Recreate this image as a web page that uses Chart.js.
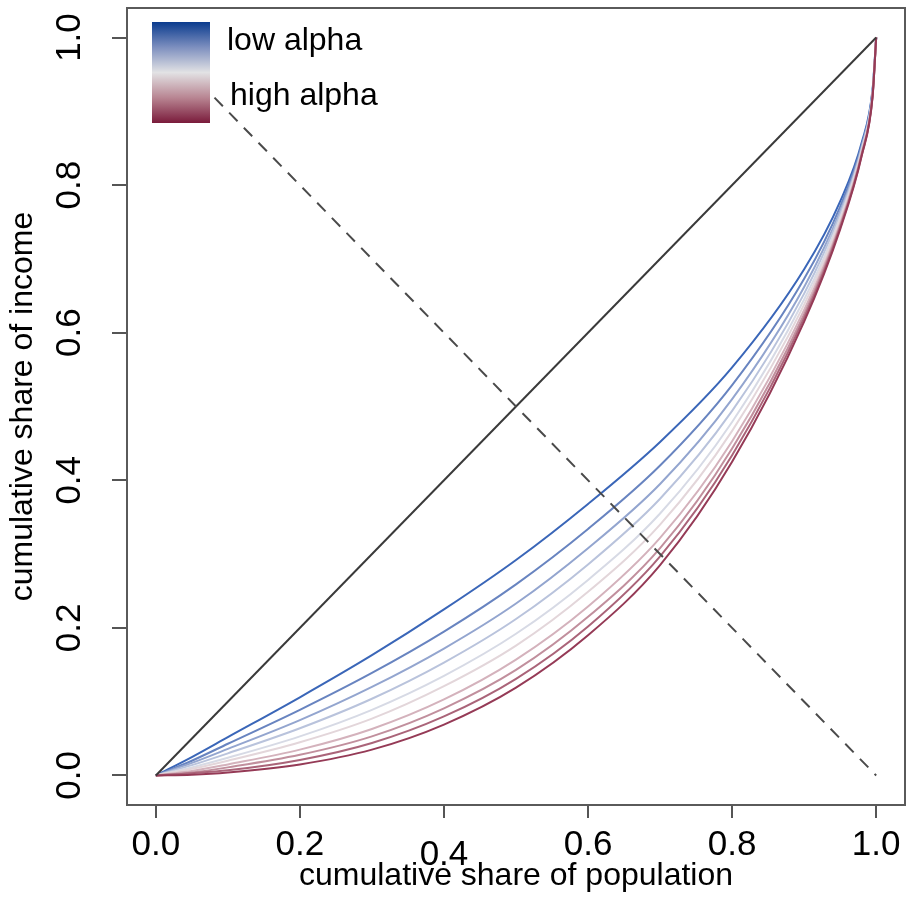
<!DOCTYPE html>
<html lang="en">
<head>
    <meta charset="UTF-8">
    <title>Lorenz curves</title>
    <style>
        html, body { margin: 0; padding: 0; background: #fff; }
        #wrap { width: 906px; height: 912px; }
    </style>
</head>
<body>
    <div id="wrap">
        <canvas id="myChart" width="906" height="912"></canvas>
    </div>

    <script src="https://cdn.jsdelivr.net/npm/chart.js"></script>

    <script>
    const popShare = [0, 0.05, 0.1, 0.2, 0.3, 0.4, 0.5, 0.6, 0.7, 0.8, 0.9, 0.95, 0.98, 0.995, 1];

    // income share, low alpha (blue) -> high alpha (red)
    const lorenz1  = [0, 0.025, 0.052, 0.106, 0.163, 0.225, 0.292, 0.368, 0.452, 0.553, 0.686, 0.778, 0.858, 0.930, 1];
    const lorenz2  = [0, 0.020, 0.043, 0.089, 0.139, 0.195, 0.259, 0.334, 0.420, 0.529, 0.673, 0.771, 0.855, 0.928, 1];
    const lorenz3  = [0, 0.017, 0.036, 0.075, 0.120, 0.172, 0.233, 0.308, 0.395, 0.510, 0.662, 0.765, 0.852, 0.927, 1];
    const lorenz4  = [0, 0.014, 0.030, 0.064, 0.104, 0.153, 0.212, 0.286, 0.375, 0.494, 0.653, 0.761, 0.850, 0.925, 1];
    const lorenz5  = [0, 0.011, 0.024, 0.053, 0.089, 0.135, 0.192, 0.265, 0.355, 0.479, 0.645, 0.756, 0.848, 0.924, 1];
    const lorenz6  = [0, 0.009, 0.020, 0.045, 0.077, 0.121, 0.176, 0.249, 0.340, 0.467, 0.638, 0.753, 0.846, 0.923, 1];
    const lorenz7  = [0, 0.006, 0.015, 0.035, 0.063, 0.103, 0.157, 0.229, 0.322, 0.453, 0.631, 0.748, 0.844, 0.922, 1];
    const lorenz8  = [0, 0.004, 0.011, 0.028, 0.053, 0.091, 0.143, 0.215, 0.308, 0.443, 0.625, 0.745, 0.843, 0.921, 1];
    const lorenz9  = [0, 0.003, 0.007, 0.021, 0.044, 0.080, 0.131, 0.202, 0.297, 0.434, 0.620, 0.743, 0.841, 0.921, 1];
    const lorenz10 = [0, 0.001, 0.004, 0.015, 0.035, 0.069, 0.119, 0.190, 0.285, 0.425, 0.615, 0.740, 0.840, 0.920, 1];
    const curves = [lorenz1, lorenz2, lorenz3, lorenz4, lorenz5, lorenz6, lorenz7, lorenz8, lorenz9, lorenz10];

    // line of equality and the 1-x reference line
    const equalityX = [0, 1];
    const equalityY = [0, 1];
    const antiDiagY = [1, 0];

    const tickValues = [0, 0.2, 0.4, 0.6, 0.8, 1.0];
    const legendLabels = ['low alpha', 'high alpha'];

    const curveColors = ['#3a66b8', '#6884c0', '#93a5cf', '#b9c3dc', '#d7dae5',
                         '#e3d6da', '#d4b2bc', '#c18f9d', '#aa6479', '#953a56'];
    const FONT = '"Liberation Sans", Arial, Helvetica, sans-serif';

    const pts = (xs, ys) => xs.map((x, i) => ({x: x, y: ys[i]}));

    const datasets = curves.map((c, i) => ({
        data: pts(popShare, c),
        borderColor: curveColors[i],
        borderWidth: 2,
        pointRadius: 0,
        cubicInterpolationMode: 'monotone',
        order: 12 - i
    }));
    datasets.push({
        data: pts(equalityX, equalityY),
        borderColor: '#3a3a3a', borderWidth: 2, pointRadius: 0, order: 1
    });
    datasets.push({
        data: pts(equalityX, antiDiagY),
        borderColor: '#4a4a4a', borderWidth: 2, borderDash: [12, 9], pointRadius: 0, order: 0
    });

    // box around the plot + gradient legend
    const boxAndLegend = {
        id: 'boxAndLegend',
        afterDatasetsDraw(chart) {
            const c = chart.ctx, a = chart.chartArea;
            c.save();
            c.strokeStyle = '#5a5a5a';
            c.lineWidth = 2;
            c.strokeRect(a.left, a.top, a.right - a.left, a.bottom - a.top);

            const g = c.createLinearGradient(0, 22, 0, 123);
            g.addColorStop(0, '#0a3b8e');
            g.addColorStop(0.25, '#7d8fbf');
            g.addColorStop(0.5, '#e2e2e4');
            g.addColorStop(0.75, '#b88592');
            g.addColorStop(1, '#7a1b3b');
            c.fillStyle = g;
            c.fillRect(152, 22, 58, 101);

            c.fillStyle = '#000';
            c.font = '32px ' + FONT;
            c.textBaseline = 'alphabetic';
            c.fillText(legendLabels[0], 227, 50);
            c.fillText(legendLabels[1], 230, 105);
            c.restore();
        }
    };

    const ctx = document.getElementById('myChart');
    new Chart(ctx, {
        type: 'line',
        data: { datasets: datasets },
        plugins: [boxAndLegend],
        options: {
            responsive: false,
            animation: false,
            layout: { padding: { top: 8, right: 1, left: 0, bottom: 0 } },
            plugins: { legend: { display: false }, tooltip: { enabled: false } },
            scales: {
                x: {
                    type: 'linear',
                    min: -0.04, max: 1.04,
                    afterBuildTicks: s => { s.ticks = tickValues.map(v => ({value: v})); },
                    afterFit: s => { s.height = 107; s.paddingLeft = 0; s.paddingRight = 0; },
                    grid: { drawOnChartArea: false, drawTicks: true, tickLength: 13, color: '#555', lineWidth: 2 },
                    border: { display: true, color: '#555', width: 2 },
                    ticks: {
                        color: '#000',
                        padding: 6,
                        maxRotation: 0,
                        callback: v => v.toFixed(1),
                        font: c => ({ family: FONT, size: 35,
                            lineHeight: (c.tick && c.tick.value === 0.4) ? 1.77 : 1.2 })
                    },
                    title: {
                        display: true,
                        text: 'cumulative share of population',
                        color: '#000',
                        font: { family: FONT, size: 32 },
                        padding: { top: 0, bottom: 17 }
                    }
                },
                y: {
                    type: 'linear',
                    min: -0.04, max: 1.04,
                    afterBuildTicks: s => { s.ticks = tickValues.map(v => ({value: v})); },
                    afterFit: s => { s.width = 127; s.paddingTop = 0; s.paddingBottom = 0; },
                    grid: { drawOnChartArea: false, drawTicks: true, tickLength: 15, color: '#555', lineWidth: 2 },
                    border: { display: true, color: '#555', width: 2 },
                    ticks: {
                        color: '#000',
                        padding: 17,
                        minRotation: 90, maxRotation: 90,
                        crossAlign: 'center',
                        callback: v => v.toFixed(1),
                        font: { family: FONT, size: 35 }
                    },
                    title: {
                        display: true,
                        text: 'cumulative share of income',
                        color: '#000',
                        font: { family: FONT, size: 32 },
                        padding: { top: 4, bottom: 0 }
                    }
                }
            }
        }
    });
    </script>
</body>
</html>
